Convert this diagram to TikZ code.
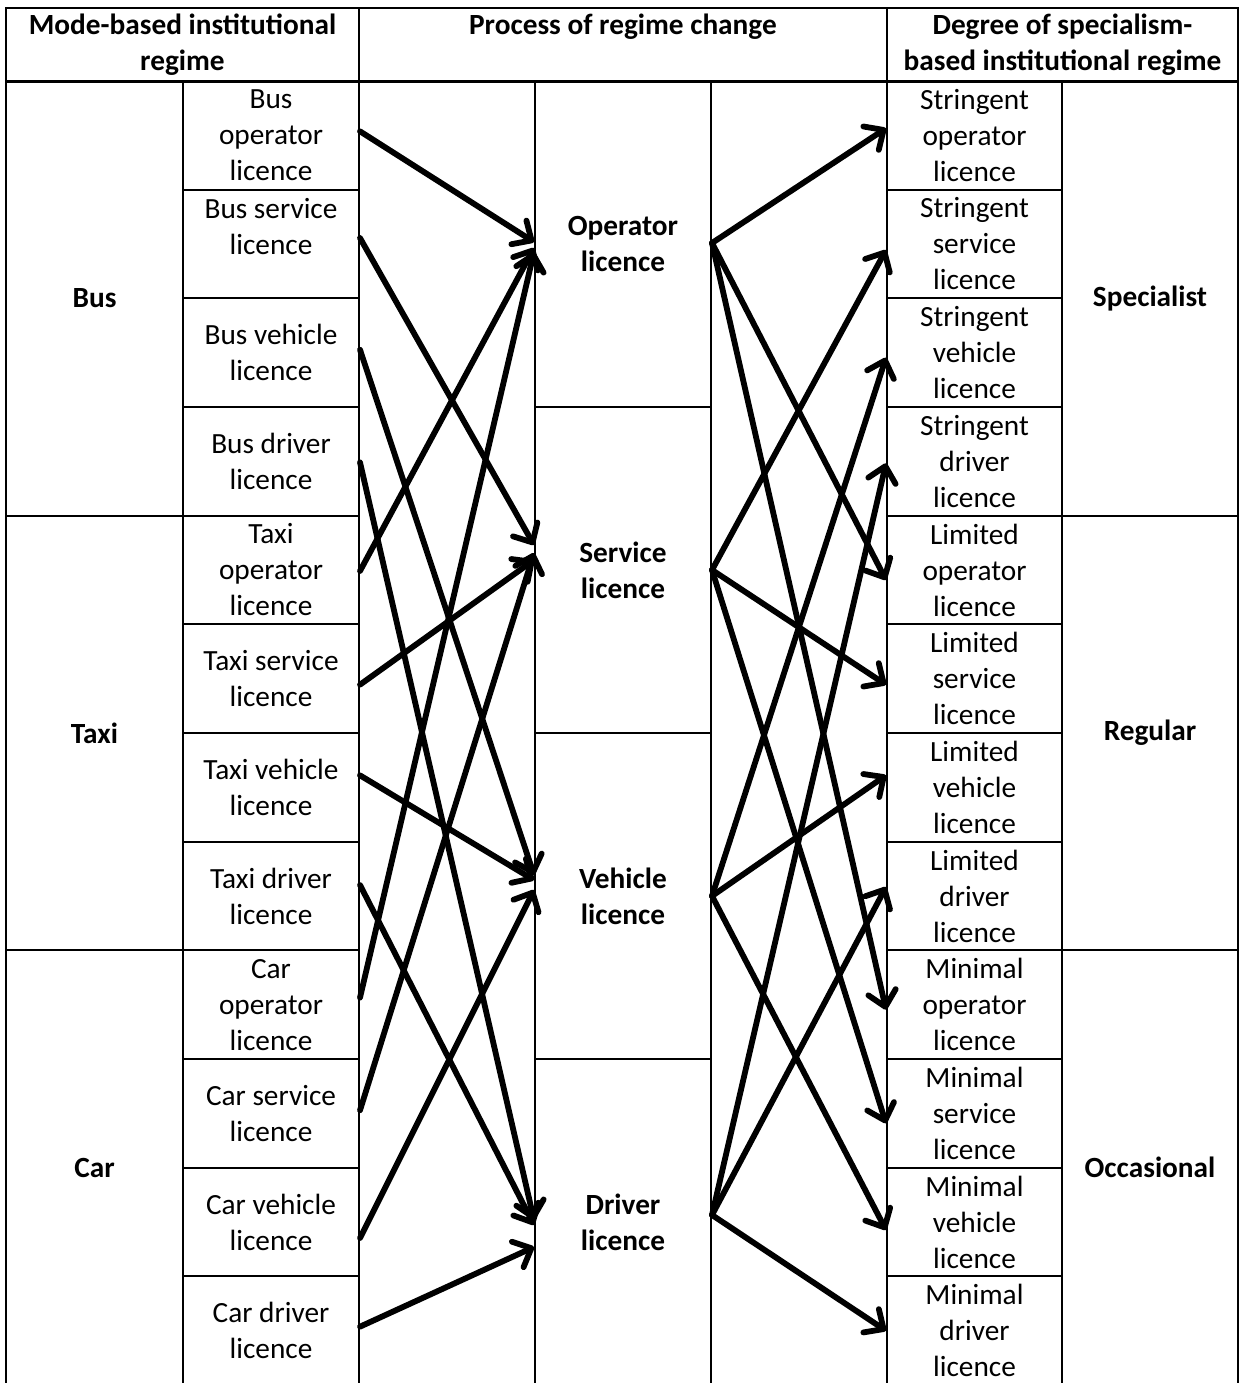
\documentclass[tikz,border=0pt]{standalone}
\usepackage{fontspec}
\setmainfont{Carlito}
\usetikzlibrary{arrows.meta,calc}
\newcommand\cellfont{\fontsize{29.3}{36}\selectfont}
\begin{document}
\begin{tikzpicture}[x=1pt,y=-1pt,
  cell/.style={draw=black, line width=2pt, inner sep=0pt, align=center, font=\cellfont},
  hcell/.style={cell, font=\cellfont\bfseries, minimum height=74pt},
  lic/.style={cell, minimum width=176pt, minimum height=108.67pt},
  rlic/.style={cell, minimum width=175pt, minimum height=108.67pt},
  mode/.style={cell, font=\cellfont\bfseries, minimum width=177pt, minimum height=434.67pt},
  deg/.style={cell, font=\cellfont\bfseries, minimum width=176pt, minimum height=434.67pt},
  proc/.style={cell, font=\cellfont\bfseries, minimum width=176pt, minimum height=326pt},
  gap/.style={draw=black, line width=2pt},
  arr/.style={line width=5.8pt, line cap=round, -{Straight Barb[length=15pt,width=28pt,round]}},
]
\useasboundingbox (0,0) rectangle (1240,1383);

% headers
\node[hcell, minimum width=353pt] (h1) at (182.5,45) {Mode-based institutional\\regime};
\node[hcell, minimum width=528pt] (h2) at (623,45) {Process of regime change\\\vphantom{g}};
\node[hcell, minimum width=351pt] (h3) at (1062.5,45) {Degree of specialism-\\based institutional regime};

% empty middle columns
\draw[gap] (359,81) rectangle (535,1385);
\draw[gap] (711,81) rectangle (887,1385);

% modes
\node[mode] (bus)  at (94.5,298.33) {Bus};
\node[mode] (taxi) at (94.5,733)    {Taxi};
\node[mode] (car)  at (94.5,1167.67) {Car};

% mode licences
\node[lic] (bo) at (271,135.33)  {Bus\\operator\\licence};
\node[lic] (bs) at (271,244)     {Bus service\\licence\\\vphantom{l}};
\node[lic] (bv) at (271,352.67)  {Bus vehicle\\licence};
\node[lic] (bd) at (271,461.33)  {Bus driver\\licence};
\node[lic] (to) at (271,570)     {Taxi\\operator\\licence};
\node[lic] (ts) at (271,678.67)  {Taxi service\\licence};
\node[lic] (tv) at (271,787.33)  {Taxi vehicle\\licence};
\node[lic] (td) at (271,896)     {Taxi driver\\licence};
\node[lic] (co) at (271,1004.67) {Car\\operator\\licence};
\node[lic] (cs) at (271,1113.33) {Car service\\licence};
\node[lic] (cv) at (271,1222)    {Car vehicle\\licence};
\node[lic] (cd) at (271,1330.67) {Car driver\\licence};

% process
\node[proc] (pop) at (623,244)  {Operator\\licence};
\node[proc] (psv) at (623,570)  {Service\\licence};
\node[proc] (pve) at (623,896)  {Vehicle\\licence};
\node[proc] (pdr) at (623,1222) {Driver\\licence};

% specialism licences
\node[rlic] (so) at (974.5,135.33)  {Stringent\\operator\\licence};
\node[rlic] (ss) at (974.5,244)     {Stringent\\service\\licence};
\node[rlic] (sv) at (974.5,352.67)  {Stringent\\vehicle\\licence};
\node[rlic] (sd) at (974.5,461.33)  {Stringent\\driver\\licence};
\node[rlic] (lo) at (974.5,570)     {Limited\\operator\\licence};
\node[rlic] (ls) at (974.5,678.67)  {Limited\\service\\licence};
\node[rlic] (lv) at (974.5,787.33)  {Limited\\vehicle\\licence};
\node[rlic] (ld) at (974.5,896)     {Limited\\driver\\licence};
\node[rlic] (mo) at (974.5,1004.67) {Minimal\\operator\\licence};
\node[rlic] (ms) at (974.5,1113.33) {Minimal\\service\\licence};
\node[rlic] (mv) at (974.5,1222)    {Minimal\\vehicle\\licence};
\node[rlic] (md) at (974.5,1330.67) {Minimal\\driver\\licence};

% degrees
\node[deg] (spec) at (1150,298.33)  {Specialist};
\node[deg] (reg)  at (1150,733)     {Regular};
\node[deg] (occ)  at (1150,1167.67) {Occasional};

% left arrows
\draw[arr] ([yshift=4pt]bo.east)   -- ([yshift=2pt]pop.west);
\draw[arr] ([yshift=6pt]bs.east)   -- ([yshift=25pt]psv.west);
\draw[arr] ([yshift=3pt]bv.east)   -- ([yshift=21pt]pve.west);
\draw[arr] ([yshift=-1pt]bd.east)  -- ([yshift=2pt]pdr.west);
\draw[arr] ([yshift=-1pt]to.east)  -- ([yshift=-4pt]pop.west);
\draw[arr] ([yshift=-6pt]ts.east)  -- ([yshift=10pt]psv.west);
\draw[arr] ([yshift=12pt]tv.east)  -- ([yshift=16pt]pve.west);
\draw[arr] ([yshift=11pt]td.east)  -- ([yshift=-3pt]pdr.west);
\draw[arr] ([yshift=7pt]co.east)   -- ([yshift=-8pt]pop.west);
\draw[arr] ([yshift=3pt]cs.east)   -- ([yshift=17pt]psv.west);
\draw[arr] ([yshift=-16pt]cv.east) -- ([yshift=6pt]pve.west);
\draw[arr] ([yshift=4pt]cd.east)   -- ([yshift=-25pt]pdr.west);

% right arrows
\draw[arr] ([yshift=1pt]pop.east) -- ([yshift=7pt]so.west);
\draw[arr] ([yshift=1pt]pop.east) -- ([yshift=-10pt]lo.west);
\draw[arr] ([yshift=1pt]pop.east) -- ([yshift=-5pt]mo.west);
\draw[arr] (psv.east) -- ([yshift=-6pt]ss.west);
\draw[arr] (psv.east) -- ([yshift=-6pt]ls.west);
\draw[arr] (psv.east) -- ([yshift=-10pt]ms.west);
\draw[arr] (pve.east) -- ([yshift=-5pt]sv.west);
\draw[arr] (pve.east) -- ([yshift=12pt]lv.west);
\draw[arr] (pve.east) -- ([yshift=-8pt]mv.west);
\draw[arr] ([yshift=7pt]pdr.east) -- ([yshift=-2pt]sd.west);
\draw[arr] ([yshift=7pt]pdr.east) -- ([yshift=9pt]ld.west);
\draw[arr] ([yshift=7pt]pdr.east) -- (md.west);
\end{tikzpicture}
\end{document}
